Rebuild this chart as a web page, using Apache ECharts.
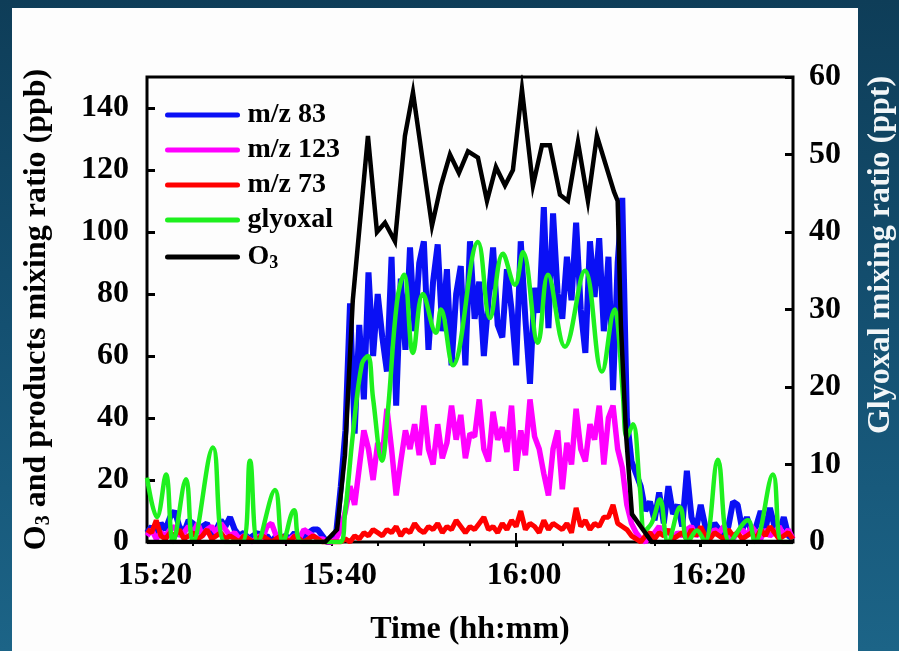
<!DOCTYPE html>
<html>
<head>
<meta charset="utf-8">
<script src="https://cdn.jsdelivr.net/npm/echarts@6/dist/echarts.min.js"></script>
<style>
  html, body { margin: 0; padding: 0; width: 899px; height: 651px; overflow: hidden; }
  body { position: relative; background: linear-gradient(180deg, #0e3d58 0%, #145071 50%, #1c6487 100%); }
  #panel { position: absolute; left: 12px; top: 8px; width: 846px; height: 643px; background: #fdfdfd; }
  #chart { position: absolute; left: 0; top: 0; width: 899px; height: 651px; }
</style>
</head>
<body>
<div id="panel"></div>
<div id="chart"></div>
<script>
// Times are minutes after 15:00. PTR-MS signals are sampled every 30 s from 15:20.
const ptrStart = 20;
const ptrStep = 0.5;

// m/z 83 (ppb)
const mz83 = [
  3, 5, 2, 6, 4, 8, 10, 5, 3, 7,
  6, 3, 5, 6, 2, 4, 7, 5, 8, 4,
  2, 3, 1, 2, 3, 1, 2, 0, 2, 1,
  2, 1, 3, 1, 2, 3, 4, 4, 2, 0,
  0, 3, 18, 36, 77, 35, 70, 46, 87, 60,
  80, 66, 55, 92, 44, 85, 62, 95, 68, 90,
  97, 62, 84, 96, 68, 88, 57, 80, 89, 57,
  97, 72, 84, 60, 78, 95, 70, 66, 88, 75,
  57, 97, 72, 51, 82, 74, 108, 69, 106, 80,
  72, 92, 78, 103, 75, 61, 97, 79, 98, 68,
  92, 49, 90, 111, 40, 26, 22, 18, 10, 13,
  7, 16, 6, 18, 9, 12, 5, 23, 8, 4,
  12, 5, 3, 6, 4, 2, 5, 13, 12, 4,
  8, 3, 5, 10, 4, 11, 5, 3, 8, 2, 1
];

// m/z 123 (ppb)
const mz123 = [
  2, 4, 1, 3, 2, 4, 5, 2, 3, 5,
  3, 6, 2, 4, 5, 3, 6, 4, 2, 3,
  1, 2, 1, 0, 2, 1, 5, 6, 2, 1,
  0, 1, 2, 1, 4, 3, 2, 1, 1, 0,
  0, 1, 4, 10, 18, 12, 24, 36, 30, 20,
  32, 28, 43, 30, 15, 26, 36, 30, 38, 28,
  44, 30, 25, 38, 27, 32, 44, 33, 41, 27,
  35, 34, 46, 30, 26, 42, 33, 37, 29, 44,
  23, 36, 28, 46, 34, 30, 22, 15, 30, 36,
  17, 32, 25, 43, 30, 26, 38, 33, 44, 25,
  40, 44, 30, 24, 12, 6, 3, 1, 0, 2,
  3, 5, 2, 4, 1, 3, 2, 4, 5, 2,
  3, 1, 2, 4, 3, 5, 2, 1, 3, 4,
  2, 5, 3, 1, 4, 2, 3, 5, 2, 4, 1
];

// m/z 73 (ppb)
const mz73 = [
  4, 3, 7, 2, 1, 3, 2, 4, 1, 2,
  3, 1, 2, 4, 1, 2, 3, 1, 2, 1,
  0, 2, 1, 0, 1, 2, 1, 0, 1, 2,
  1, 0, 2, 1, 0, 1, 2, 1, 0, 0,
  0, 0, 0, 1, 0, 2, 1, 3, 2, 4,
  3, 2, 4, 3, 5, 2, 4, 3, 6, 4,
  3, 5, 4, 6, 3, 5, 4, 7, 5, 3,
  5, 4, 6, 8, 4, 5, 3, 6, 4, 7,
  5, 10, 4, 6, 5, 3, 7, 4, 6, 5,
  4, 6, 3, 11, 5, 7, 4, 6, 5, 8,
  8, 12, 6, 5, 4, 2, 1, 0, 2, 3,
  1, 3, 2, 4, 1, 2, 3, 1, 4, 2,
  5, 2, 1, 3, 2, 1, 4, 2, 3, 1,
  2, 3, 1, 4, 2, 5, 3, 1, 2, 3, 1
];

// Glyoxal (ppt)
const glyoxalTimes = [
  20.00, 21.08, 22.06, 22.82, 24.23, 24.98, 27.15, 28.45, 30.29, 31.16,
  32.03, 33.87, 34.73, 35.93, 36.79, 40.91, 41.45, 42.32, 43.29, 43.94,
  44.49, 45.46, 46.11, 47.09, 47.84, 48.82, 49.90, 51.31, 51.85, 53.15,
  55.86, 57.16, 58.57, 59.87, 60.74, 62.36, 63.45, 65.29, 67.45, 69.30,
  70.70, 71.02, 71.57, 72.00, 72.65, 73.41, 73.95, 74.71, 75.58, 76.45,
  77.75, 78.61, 79.59, 80.45, 81.86, 83.16, 85.11, 85.87, 87.82, 88.80,
  90.00
];
const glyoxal = [
  8.3, 3.2, 8.7, 0, 8.1, 0, 12.2, 0, 0, 10.5,
  0, 6.7, 0, 4.1, 0, 0, 3.6, 14, 23, 24,
  18.6, 10.5, 17, 31, 34.5, 24.4, 32, 27, 30, 22.8,
  38.7, 28.9, 37.2, 33.2, 37.4, 25.7, 34.5, 25.2, 35, 22,
  30, 28, 19, 13.5, 15.2, 7, 1.5, 2.5, 5.5, 0,
  4.5, 0, 1.5, 0, 10.6, 0, 2.8, 0, 8.7, 0,
  0
];

// O3 (ppb)
const o3Times = [
  20.00, 39.30, 40.60, 41.45, 42.30, 43.94, 44.92, 45.79, 46.87, 47.95,
  48.82, 50.88, 51.85, 52.83, 53.80, 54.78, 55.86, 56.84, 57.81, 58.79,
  59.65, 60.63, 61.82, 62.80, 63.66, 64.75, 65.61, 66.70, 67.78, 68.75,
  70.60, 71.00, 71.35, 71.90, 72.55, 74.70, 90.00
];
const o3 = [
  0, 0, 4, 28, 78, 131, 100, 103, 97, 131,
  145, 102, 115, 125, 119, 126, 124, 110, 121, 115,
  120, 146, 115, 128, 128, 112, 110, 129, 110, 131,
  113, 110, 70, 35, 9, 0, 0
];

// Axis ticks
const timeLabelValues = [20, 40, 60, 80];
const timeTickValues = [25, 30, 35, 40, 45, 50, 55, 60, 65, 70, 75, 80, 85];
const leftTickValues = [0, 20, 40, 60, 80, 100, 120, 140];
const rightTickValues = [0, 10, 20, 30, 40, 50, 60];

const FONT = '"Liberation Serif", "Times New Roman", Times, serif';
const ptrTimes = mz83.map((_, i) => ptrStart + i * ptrStep);
const pairs = (ts, vs) => ts.map((t, i) => [t, vs[i]]);
const clock = v => {
  const h = 15 + Math.floor(v / 60);
  const m = v % 60;
  return h + ':' + String(m).padStart(2, '0');
};

const boldText = (size, extra) => Object.assign({
  fontFamily: FONT, fontSize: size, fontWeight: 'bold', color: '#000'
}, extra || {});

const chart = echarts.init(document.getElementById('chart'), null, { renderer: 'canvas' });

chart.setOption({
  animation: false,
  backgroundColor: 'transparent',
  grid: {
    left: 147, right: 106, top: 77, bottom: 106,
    show: true, borderColor: '#000', borderWidth: 3, backgroundColor: 'transparent'
  },
  legend: {
    orient: 'vertical',
    left: 160, top: 95,
    itemWidth: 70, itemHeight: 14, itemGap: 5,
    data: ['m/z 83', 'm/z 123', 'm/z 73', 'glyoxal', 'O3'],
    lineStyle: { width: 5, cap: 'round' },
    itemStyle: { opacity: 0 },
    formatter: n => n === 'O3' ? '{b|O}{s|3}' : n,
    textStyle: boldText(28, {
      lineHeight: 30,
      padding: [0, 0, 0, 5],
      rich: {
        b: boldText(28, { lineHeight: 30 }),
        s: boldText(18, { lineHeight: 30, verticalAlign: 'bottom', padding: [14, 0, 0, 0] })
      }
    })
  },
  xAxis: [
    {
      type: 'value', min: 20, max: 90, position: 'bottom',
      axisLine: { show: false }, splitLine: { show: false },
      axisTick: { show: true, customValues: timeTickValues, inside: false, length: 4,
                  lineStyle: { color: '#000', width: 2 } },
      axisLabel: boldText(32, { customValues: timeLabelValues, formatter: clock,
                                margin: 18, padding: [0, 0, 0, 16] }),
      name: 'Time (hh:mm)', nameLocation: 'middle', nameGap: 72,
      nameTextStyle: boldText(32)
    },
    {
      type: 'value', min: 20, max: 90, position: 'top',
      axisLine: { show: false }, splitLine: { show: false }, axisLabel: { show: false },
      axisTick: { show: true, customValues: [60, 80], inside: true, length: 5,
                  lineStyle: { color: '#000', width: 3 } }
    },
    {
      type: 'value', min: 20, max: 90, position: 'bottom',
      axisLine: { show: false }, splitLine: { show: false }, axisLabel: { show: false },
      axisTick: { show: true, customValues: [60], inside: true, length: 9,
                  lineStyle: { color: '#000', width: 2 } }
    }
  ],
  yAxis: [
    {
      type: 'value', min: 0, max: 150, position: 'left',
      axisLine: { show: false }, splitLine: { show: false },
      axisTick: { show: true, customValues: leftTickValues, inside: true, length: 8,
                  lineStyle: { color: '#000', width: 3 } },
      axisLabel: boldText(32, { customValues: leftTickValues, margin: 18, padding: [6, 0, 0, 0] }),
      name: '{b|O}{s|3}{b| and products mixing ratio (ppb)}',
      nameLocation: 'middle', nameRotate: 90, nameGap: 93,
      nameTextStyle: boldText(32, {
        rich: {
          b: boldText(32, { lineHeight: 34 }),
          s: boldText(20, { lineHeight: 34, verticalAlign: 'bottom', padding: [16, 0, 0, 0] })
        }
      })
    },
    {
      type: 'value', min: 0, max: 60, position: 'right',
      axisLine: { show: false }, splitLine: { show: false },
      axisTick: { show: true, customValues: rightTickValues, inside: true, length: 8,
                  lineStyle: { color: '#000', width: 3 } },
      axisLabel: boldText(32, { customValues: rightTickValues, margin: 16, padding: [6, 0, 0, 0] })
    }
  ],
  graphic: [{
    type: 'text', x: 881, y: 255, rotation: Math.PI / 2,
    style: {
      text: 'Glyoxal mixing ratio (ppt)',
      fontFamily: FONT, fontSize: 32, fontWeight: 'bold', fill: '#f2f6f8',
      align: 'center', verticalAlign: 'middle', textAlign: 'center', textVerticalAlign: 'middle'
    }
  }],
  series: [
    {
      name: 'm/z 83', type: 'line', xAxisIndex: 0, yAxisIndex: 0, symbol: 'none',
      data: pairs(ptrTimes, mz83), z: 2,
      lineStyle: { color: '#0a10f5', width: 6 }, itemStyle: { color: '#0a10f5' }
    },
    {
      name: 'm/z 123', type: 'line', xAxisIndex: 0, yAxisIndex: 0, symbol: 'none',
      data: pairs(ptrTimes, mz123), z: 3,
      lineStyle: { color: '#ff00ff', width: 5.5 }, itemStyle: { color: '#ff00ff' }
    },
    {
      name: 'm/z 73', type: 'line', xAxisIndex: 0, yAxisIndex: 0, symbol: 'none',
      data: pairs(ptrTimes, mz73), z: 4,
      lineStyle: { color: '#ff0000', width: 5 }, itemStyle: { color: '#ff0000' }
    },
    {
      name: 'glyoxal', type: 'line', xAxisIndex: 0, yAxisIndex: 1, symbol: 'none',
      smooth: 0.4, data: pairs(glyoxalTimes, glyoxal), z: 5,
      lineStyle: { color: '#1ef01e', width: 4.5 }, itemStyle: { color: '#1ef01e' }
    },
    {
      name: 'O3', type: 'line', xAxisIndex: 0, yAxisIndex: 0, symbol: 'none',
      data: pairs(o3Times, o3), z: 6,
      lineStyle: { color: '#000', width: 4.5, join: 'miter' }, itemStyle: { color: '#000' }
    }
  ]
});
</script>
</body>
</html>
